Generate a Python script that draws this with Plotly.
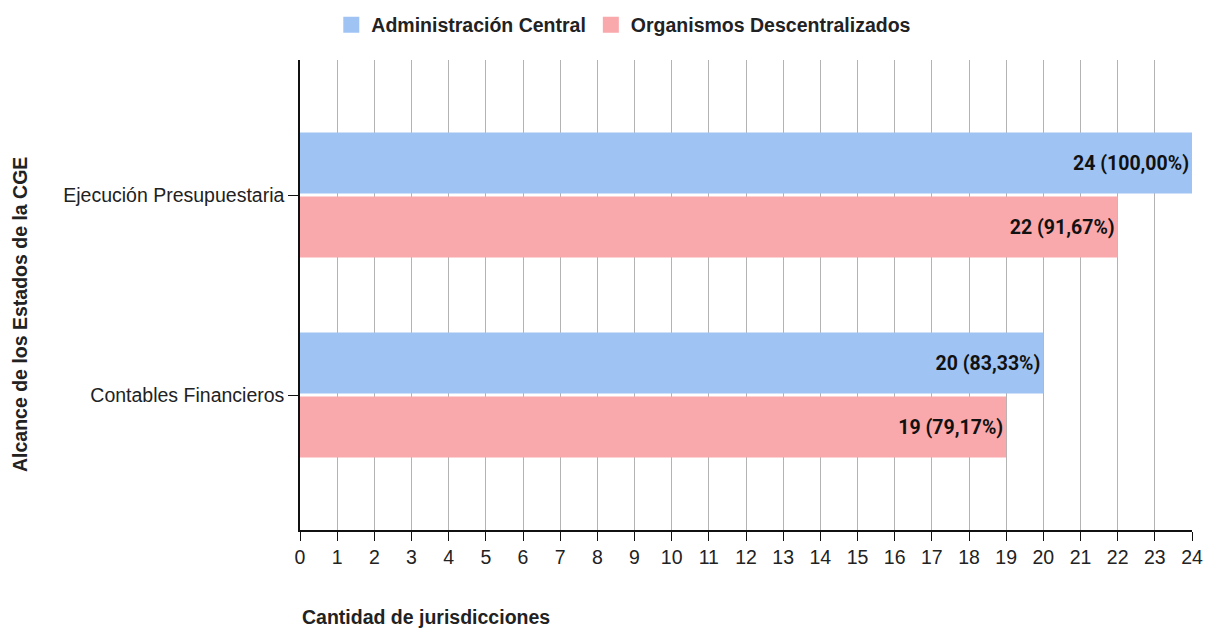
import plotly.graph_objects as go

categories = ["Ejecución Presupuestaria", "Contables Financieros"]
series_names = ["Administración Central", "Organismos Descentralizados"]
admin_central = [24, 20]
org_descentralizados = [22, 19]
admin_labels = ["24 (100,00%)", "20 (83,33%)"]
org_labels = ["22 (91,67%)", "19 (79,17%)"]
x_ticks = list(range(0, 25))

colors = ["#9fc4f4", "#f9a9ab"]
FS = 19.5

fig = go.Figure()
for name, vals, labels, col in [
    (series_names[0], admin_central, admin_labels, colors[0]),
    (series_names[1], org_descentralizados, org_labels, colors[1]),
]:
    fig.add_trace(go.Bar(
        y=categories, x=vals, name=name, orientation="h",
        marker=dict(color=col, line=dict(width=0)),
        text=labels, textposition="inside", insidetextanchor="end",
        textfont=dict(family="Roboto", size=FS, color="#111111", weight="bold"),
        textangle=0, cliponaxis=False, showlegend=False,
    ))
# legend entries with larger square swatches
for name, col in zip(series_names, colors):
    fig.add_trace(go.Scatter(
        x=[None], y=[None], mode="markers", name=name,
        marker=dict(symbol="square", size=19, color=col, line=dict(width=0)),
        showlegend=True, hoverinfo="skip",
    ))

fig.update_layout(
    width=1206, height=628,
    margin=dict(l=300, r=14, t=60, b=98, autoexpand=False),
    paper_bgcolor="white", plot_bgcolor="white",
    barmode="group", bargap=0.36, bargroupgap=0.045,
    font=dict(family="Liberation Sans, Arial", size=FS, color="#222222"),
    legend=dict(
        orientation="h", x=0.363, xanchor="center", y=1 + 35 / 470, yanchor="middle",
        font=dict(family="Liberation Sans, Arial", size=FS, color="#222222", weight="bold"),
        itemsizing="trace", itemwidth=30, traceorder="normal",
    ),
    showlegend=True,
)

fig.update_xaxes(
    range=[0, 24], tickvals=x_ticks, ticktext=[str(t) for t in x_ticks],
    showgrid=True, gridcolor="#b3b3b3", gridwidth=1.2,
    showline=True, linecolor="#111111", linewidth=1.5,
    ticks="outside", ticklen=9, tickcolor="#111111",
    tickfont=dict(size=FS, color="#222222"), zeroline=False, automargin=False,
)
fig.update_yaxes(
    type="category", categoryorder="array", categoryarray=categories,
    range=[1.675, -0.675],
    showgrid=False, showline=True, linecolor="#111111", linewidth=1.5,
    ticks="outside", ticklen=10, tickcolor="#111111",
    tickfont=dict(size=FS, color="#222222"), zeroline=False, automargin=False,
)

fig.add_annotation(
    text="Alcance de los Estados de la CGE", xref="paper", yref="paper",
    x=(20 - 300) / 892, y=(530 - 315) / 470, textangle=-90, showarrow=False,
    font=dict(family="Liberation Sans, Arial", size=FS, color="#222222", weight="bold"),
    xanchor="center", yanchor="middle",
)
fig.add_annotation(
    text="Cantidad de jurisdicciones", xref="paper", yref="paper",
    x=0, y=-(617 - 530) / 470, showarrow=False, xanchor="left", yanchor="middle",
    font=dict(family="Liberation Sans, Arial", size=FS, color="#222222", weight="bold"),
)

fig.write_html(
    "out.html",
    config={"displayModeBar": False},
    post_script="document.body.style.margin='0';document.body.style.overflow='hidden';",
)
